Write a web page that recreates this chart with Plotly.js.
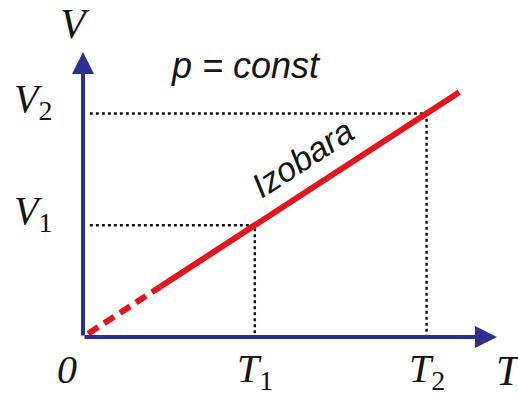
<!DOCTYPE html>
<html>
<head>
<meta charset="utf-8">
<script src="https://cdn.plot.ly/plotly-3.0.1.min.js"></script>
<style>
  html, body { margin: 0; padding: 0; background: #fff; }
  #chart { width: 518px; height: 396px; }
</style>
</head>
<body>
<div id="chart"></div>
<script>
// dane wykresu (jednostki umowne: T1 = 1, T2 = 2)
const tempTicks = [1, 2];
const tempLabels = ['<i>T</i><sub>1</sub>', '<i>T</i><sub>2</sub>'];
const volTicks = [1, 2];
const volLabels = ['<i>V</i><sub>1</sub>', '<i>V</i><sub>2</sub>'];

// izobara: część przerywana (ekstrapolacja) i ciągła
const dashT = [0.03, 0.45];
const dashV = [0.03, 0.45];
const solidT = [0.45, 2.19];
const solidV = [0.45, 2.19];

const xMax = 2.41;
const yMax = 2.55;

const axisColor = '#2b2f8f';
const redColor = '#e3161e';
const dotColor = '#111';
const textColor = '#151515';
const serif = 'Liberation Serif, Times New Roman, serif';
const sans = 'Liberation Sans, Arial, sans-serif';

const traces = [];

// linie pomocnicze kropkowane
for (let i = 0; i < tempTicks.length; i++) {
  traces.push({
    x: [0.04, tempTicks[i], tempTicks[i]],
    y: [volTicks[i], volTicks[i], 0],
    mode: 'lines',
    line: { color: dotColor, width: 2.5, dash: 'dot' },
    hoverinfo: 'skip'
  });
}

traces.push({
  x: dashT, y: dashV, mode: 'lines',
  line: { color: redColor, width: 6, dash: '12px,7px' },
  hoverinfo: 'skip'
});
traces.push({
  x: solidT, y: solidV, mode: 'lines',
  line: { color: redColor, width: 6 },
  hoverinfo: 'skip'
});

const annotations = [
  // osie ze strzałkami
  { x: xMax, y: 0, ax: 0, ay: 0, axref: 'x', ayref: 'y', text: '',
    showarrow: true, arrowhead: 2, arrowsize: 1.1, arrowwidth: 4, arrowcolor: axisColor },
  { x: 0, y: yMax, ax: 0, ay: 0, axref: 'x', ayref: 'y', text: '',
    showarrow: true, arrowhead: 2, arrowsize: 1.1, arrowwidth: 4, arrowcolor: axisColor },
  // podpisy osi
  { x: 0, y: yMax, xshift: -8, yshift: 28, text: '<i>V</i>', showarrow: false,
    font: { family: serif, size: 42, color: textColor } },
  { x: xMax, y: 0, xshift: 12, yshift: -34, text: '<i>T</i>', showarrow: false,
    font: { family: serif, size: 42, color: textColor } },
  { x: 0, y: 0, xshift: -16, yshift: -32, text: '<i>0</i>', showarrow: false,
    font: { family: serif, size: 40, color: textColor } },
  { x: 0.5, y: yMax, yshift: -13, text: '<i>p = const</i>', showarrow: false,
    xanchor: 'left', font: { family: sans, size: 36, color: textColor } },
  { x: 1.28, y: 1.6, text: '<i>Izobara</i>', showarrow: false, textangle: -33,
    font: { family: sans, size: 34, color: textColor } }
];

for (let i = 0; i < tempTicks.length; i++) {
  annotations.push({
    x: tempTicks[i], y: 0, yshift: -34, text: tempLabels[i], showarrow: false,
    font: { family: serif, size: 40, color: textColor }
  });
  annotations.push({
    x: 0, y: volTicks[i], xshift: -50, yshift: 12, text: volLabels[i], showarrow: false,
    font: { family: serif, size: 40, color: textColor }
  });
}

const layout = {
  width: 518,
  height: 396,
  margin: { l: 83, r: 21, t: 52, b: 59 },
  paper_bgcolor: '#fff',
  plot_bgcolor: '#fff',
  showlegend: false,
  xaxis: { range: [0, xMax], showgrid: false, zeroline: false, showticklabels: false, showline: false },
  yaxis: { range: [0, yMax], showgrid: false, zeroline: false, showticklabels: false, showline: false },
  annotations: annotations
};

Plotly.newPlot('chart', traces, layout, { staticPlot: true });
</script>
</body>
</html>
